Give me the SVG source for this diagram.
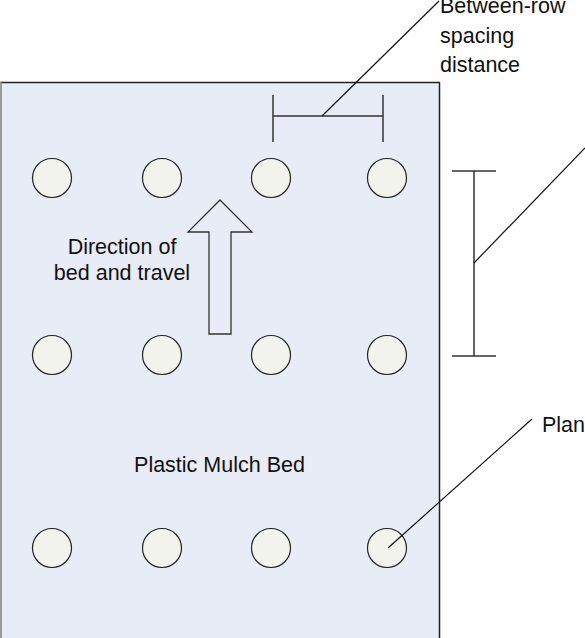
<svg xmlns="http://www.w3.org/2000/svg" width="585" height="638" viewBox="0 0 585 638">
<style>
.t{font-family:"Liberation Sans",Arial,sans-serif;font-size:21.5px;fill:#111}
.p{fill:#F1F3EC;stroke:#222;stroke-width:1.2}
.l{stroke:#111;stroke-width:1.2;fill:none}
.b{stroke:#333;stroke-width:1.5;fill:none}
</style>
<rect width="585" height="638" fill="#fff"/>
<g id="bed">
<rect x="1" y="82.5" width="438.5" height="570" fill="#E8ECF7" stroke="#222" stroke-width="1.5"/>
<line x1="1" y1="82.5" x2="1" y2="638" stroke="#999" stroke-width="2"/>
<text class="t" x="219.5" y="472" text-anchor="middle">Plastic Mulch Bed</text>
</g>
<g id="plants">
<circle class="p" cx="52" cy="178" r="19.5"/><circle class="p" cx="162" cy="178" r="19.5"/><circle class="p" cx="271" cy="178" r="19.5"/><circle class="p" cx="387" cy="178" r="19.5"/>
<circle class="p" cx="52" cy="355" r="19.5"/><circle class="p" cx="162" cy="355" r="19.5"/><circle class="p" cx="271" cy="355" r="19.5"/><circle class="p" cx="387" cy="355" r="19.5"/>
<circle class="p" cx="52" cy="548" r="19.5"/><circle class="p" cx="162" cy="548" r="19.5"/><circle class="p" cx="271" cy="548" r="19.5"/><circle class="p" cx="387" cy="548" r="19.5"/>
</g>
<g id="direction">
<path d="M220,200 L252,232 L231,232 L231,334 L209,334 L209,232 L188,232 Z" fill="#E8ECF7" stroke="#333" stroke-width="1.3"/>
<text class="t" x="122" y="254" text-anchor="middle">Direction of</text>
<text class="t" x="122" y="280" text-anchor="middle">bed and travel</text>
</g>
<g id="between-row">
<line class="b" x1="273" y1="95" x2="273" y2="142"/>
<line class="b" x1="383" y1="95" x2="383" y2="142"/>
<line class="b" x1="273" y1="116" x2="383" y2="116"/>
<text class="t" x="440" y="13">Between-row</text>
<text class="t" x="440" y="43">spacing</text>
<text class="t" x="440" y="72">distance</text>
</g>
<g id="in-row">
<line class="b" x1="452" y1="171" x2="496" y2="171"/>
<line class="b" x1="452" y1="356" x2="496" y2="356"/>
<line class="b" x1="474" y1="171" x2="474" y2="356"/>
</g>
<g id="plant-label">
<text class="t" x="542" y="432">Plant</text>
</g>
<g id="connectors">
<line class="l" x1="322" y1="116" x2="439" y2="1"/>
<line class="l" x1="474" y1="263" x2="585" y2="148"/>
<line class="l" x1="388" y1="548" x2="532" y2="419"/>
</g>
</svg>
